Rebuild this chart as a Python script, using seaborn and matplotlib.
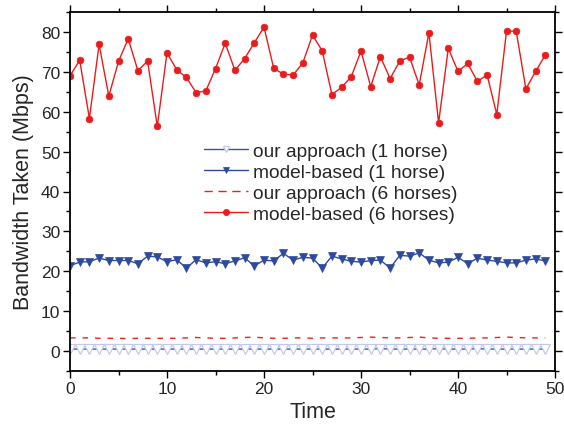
import numpy as np
import pandas as pd
import matplotlib
matplotlib.use("Agg")
import matplotlib.pyplot as plt
import seaborn as sns
from matplotlib.ticker import MultipleLocator

time = list(range(50))

model_6 = [69.0, 72.9, 58.3, 76.9, 63.9, 72.6, 78.3, 70.3, 72.7, 56.3,
           74.8, 70.5, 68.6, 64.8, 65.2, 70.8, 77.2, 70.4, 73.3, 77.3,
           81.2, 70.9, 69.4, 69.2, 72.2, 79.2, 75.3, 64.3, 66.1, 68.8,
           75.2, 66.3, 73.8, 68.3, 72.7, 73.7, 66.7, 79.8, 57.2, 75.9,
           70.1, 72.1, 67.6, 69.2, 59.3, 80.2, 80.2, 65.7, 70.1, 74.2]

model_1 = [21.4, 22.3, 22.4, 23.3, 22.7, 22.7, 22.7, 21.9, 23.8, 23.6,
           22.4, 22.9, 20.8, 22.9, 22.1, 22.4, 21.9, 22.6, 23.4, 21.3,
           22.8, 22.6, 24.5, 22.8, 23.5, 23.3, 20.8, 23.8, 23.1, 22.5,
           22.3, 22.7, 22.8, 20.8, 24.0, 23.8, 24.6, 22.8, 22.1, 22.3,
           23.5, 21.9, 23.3, 22.8, 22.5, 22.1, 22.1, 22.8, 23.1, 22.6]

ours_6 = [3.3, 3.3, 3.3, 3.2, 3.2, 3.2, 3.1, 3.2, 3.2, 3.2,
          3.2, 3.2, 3.3, 3.4, 3.3, 3.2, 3.2, 3.3, 3.4, 3.5,
          3.3, 3.2, 3.2, 3.3, 3.3, 3.2, 3.3, 3.3, 3.3, 3.3,
          3.4, 3.5, 3.4, 3.3, 3.3, 3.4, 3.5, 3.3, 3.2, 3.2,
          3.2, 3.2, 3.3, 3.3, 3.4, 3.5, 3.4, 3.3, 3.3, 3.3]

ours_1 = [0.5, 0.5, 0.5, 0.5, 0.5, 0.5, 0.5, 0.5, 0.5, 0.5,
          0.5, 0.5, 0.5, 0.5, 0.5, 0.5, 0.5, 0.5, 0.5, 0.5,
          0.5, 0.5, 0.5, 0.5, 0.5, 0.5, 0.5, 0.5, 0.5, 0.5,
          0.5, 0.5, 0.6, 0.5, 0.5, 0.5, 0.5, 0.5, 0.6, 0.5,
          0.5, 0.5, 0.6, 0.5, 0.5, 0.5, 0.5, 0.5, 0.5, 0.5]

labels = ["our approach (1 horse)", "model-based (1 horse)",
          "our approach (6 horses)", "model-based (6 horses)"]

sns.set_style("ticks")
plt.rcParams["font.family"] = ["Liberation Sans", "DejaVu Sans"]

fig = plt.figure(figsize=(5.64, 4.27), dpi=100)
ax = fig.add_axes([70 / 564, 1 - 372 / 427, 485 / 564, 359 / 427])

df = pd.DataFrame({"time": time, "ours_1": ours_1, "model_1": model_1,
                   "ours_6": ours_6, "model_6": model_6})

sns.lineplot(data=df, x="time", y="ours_1", ax=ax, color="#3d52a6", lw=1.0,
             marker="v", markersize=6.5, markerfacecolor="white",
             markeredgecolor="#c3cae8", markeredgewidth=0.9, label=labels[0])
sns.lineplot(data=df, x="time", y="model_1", ax=ax, color="#2e4a9e", lw=1.0,
             marker="v", markersize=5.5, markerfacecolor="#2e4a9e",
             markeredgecolor="#2e4a9e", markeredgewidth=0.5, label=labels[1])
sns.lineplot(data=df, x="time", y="ours_6", ax=ax, color="#f02020", lw=1.0,
             dashes=False, label=labels[2])
ax.lines[-1].set_dashes((4, 5))
sns.lineplot(data=df, x="time", y="model_6", ax=ax, color="#e81c1c", lw=1.0,
             marker="o", markersize=4.8, markerfacecolor="#e81c1c",
             markeredgecolor="#e81c1c", markeredgewidth=0.5, label=labels[3])

ax.set_xlim(0, 50)
ax.set_ylim(-5, 85)
ax.xaxis.set_major_locator(MultipleLocator(10))
ax.xaxis.set_minor_locator(MultipleLocator(5))
ax.yaxis.set_major_locator(MultipleLocator(10))
ax.yaxis.set_minor_locator(MultipleLocator(5))
ax.tick_params(which="both", direction="out", top=True, right=True,
               labeltop=False, labelright=False, color="black", width=1.0,
               labelsize=12.5, pad=2)
ax.tick_params(which="major", length=5)
ax.tick_params(which="minor", length=3)
for s in ax.spines.values():
    s.set_color("black")
    s.set_linewidth(1.3)
ax.set_xlabel("Time", fontsize=15.5, labelpad=4)
ax.set_ylabel("Bandwidth Taken (Mbps)", fontsize=15.5, labelpad=5)

leg = ax.legend(loc="upper left", bbox_to_anchor=(194 / 564, 1 - 134 / 427),
                bbox_transform=fig.transFigure, frameon=False, fontsize=13.8,
                handlelength=2.3, handletextpad=0.3, labelspacing=0.18,
                borderpad=0.0)
for h in leg.get_lines():
    h.set_markersize(4.5)
leg.get_lines()[2].set_dashes((6, 4))

fig.savefig("out.png", dpi=100)
